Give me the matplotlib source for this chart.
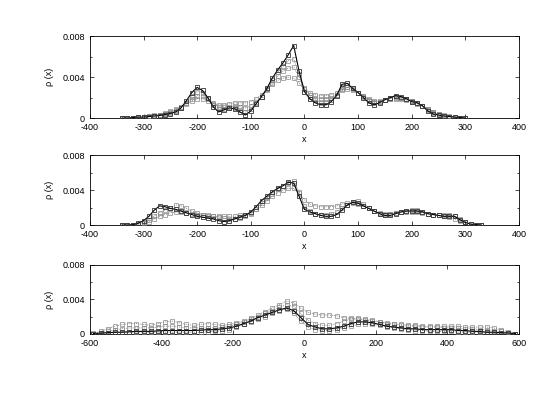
import matplotlib
matplotlib.use("Agg")
import matplotlib.pyplot as plt
from matplotlib.ticker import MultipleLocator

plt.rcParams['font.family'] = ['Liberation Sans', 'DejaVu Sans']

# ---------------- Panel 1 ----------------
x1 = [-340, -330, -320, -310, -300, -290, -280, -270, -260, -250, -240, -230, -220, -210, -200,
      -190, -180, -170, -160, -150, -140, -130, -120, -110, -100, -90, -80, -70, -60, -50, -40,
      -30, -20, -10, 0, 10, 20, 30, 40, 50, 60, 70, 80, 90, 100, 110, 120, 130, 140, 150, 160,
      170, 180, 190, 200, 210, 220, 230, 240, 250, 260, 270, 280, 290, 300]
p1_a = [0.0, 0.0, 0.05, 0.1, 0.1, 0.15, 0.2, 0.25, 0.35, 0.45, 0.6, 1.0, 1.7, 2.5, 3.0,
        2.7, 2.0, 1.1, 0.6, 0.8, 1.0, 0.9, 0.6, 0.3, 0.7, 1.4, 2.1, 2.9, 3.9, 4.7, 5.4,
        6.2, 7.1, 4.6, 2.6, 1.9, 1.5, 1.3, 1.3, 1.6, 2.2, 3.3, 3.4, 2.9, 2.5, 2.0, 1.5, 1.3, 1.5, 1.8, 2.0,
        2.2, 2.1, 1.9, 1.6, 1.5, 1.2, 0.7, 0.4, 0.3, 0.2, 0.15, 0.1, 0.05, 0.0]
p1_b = [0.0, 0.0, 0.05, 0.1, 0.1, 0.15, 0.2, 0.3, 0.4, 0.5, 0.7, 1.0, 1.5, 2.2, 2.6,
        2.5, 2.0, 1.3, 0.9, 0.9, 1.0, 1.0, 0.8, 0.6, 0.9, 1.5, 2.1, 2.8, 3.7, 4.5, 5.1,
        5.6, 5.8, 4.3, 2.8, 2.1, 1.8, 1.6, 1.6, 1.8, 2.3, 3.0, 3.2, 2.9, 2.5, 2.1, 1.7, 1.5, 1.6, 1.8, 2.0,
        2.1, 2.0, 1.9, 1.7, 1.5, 1.2, 0.8, 0.5, 0.3, 0.2, 0.15, 0.1, 0.05, 0.0]
p1_c = [0.0, 0.0, 0.05, 0.1, 0.15, 0.2, 0.25, 0.3, 0.45, 0.6, 0.8, 1.1, 1.5, 1.9, 2.2,
        2.2, 1.9, 1.5, 1.1, 1.1, 1.1, 1.2, 1.1, 1.0, 1.2, 1.6, 2.1, 2.7, 3.4, 4.1, 4.6,
        4.9, 5.0, 4.0, 2.9, 2.3, 2.0, 1.9, 1.9, 2.0, 2.3, 2.8, 3.0, 2.8, 2.5, 2.2, 1.8, 1.6, 1.6, 1.8, 1.9,
        2.0, 2.0, 1.9, 1.7, 1.5, 1.2, 0.9, 0.6, 0.4, 0.25, 0.15, 0.1, 0.05, 0.0]
p1_d = [0.0, 0.0, 0.05, 0.1, 0.15, 0.2, 0.3, 0.35, 0.5, 0.65, 0.85, 1.1, 1.4, 1.7, 1.9,
        1.9, 1.7, 1.4, 1.3, 1.3, 1.4, 1.5, 1.5, 1.5, 1.6, 1.9, 2.3, 2.8, 3.3, 3.7, 3.9,
        4.0, 3.9, 3.4, 2.8, 2.5, 2.3, 2.2, 2.2, 2.3, 2.5, 2.7, 2.8, 2.7, 2.5, 2.2, 1.9, 1.7, 1.7, 1.8, 1.9,
        1.9, 1.9, 1.8, 1.6, 1.4, 1.2, 0.9, 0.6, 0.4, 0.3, 0.2, 0.1, 0.05, 0.0]

# ---------------- Panel 2 ----------------
x2 = [-340, -330, -320, -310, -300, -290, -280, -270, -260, -250, -240, -230, -220, -210, -200,
      -190, -180, -170, -160, -150, -140, -130, -120, -110, -100, -90, -80, -70, -60, -50, -40,
      -30, -20, -10, 0, 10, 20, 30, 40, 50, 60, 70, 80, 90, 100, 110, 120, 130, 140, 150, 160,
      170, 180, 190, 200, 210, 220, 230, 240, 250, 260, 270, 280, 290, 300, 310, 320, 330]
p2_a = [0.0, 0.0, 0.05, 0.2, 0.5, 1.0, 1.7, 2.2, 2.1, 1.9, 1.8, 1.6, 1.4, 1.2, 1.0,
        0.9, 0.8, 0.7, 0.5, 0.4, 0.5, 0.7, 0.9, 1.1, 1.5, 2.1, 2.8, 3.3, 3.8, 4.2, 4.5,
        4.9, 4.8, 3.3, 1.8, 1.5, 1.3, 1.1, 1.0, 1.0, 1.2, 1.7, 2.3, 2.6, 2.5, 2.2, 1.9, 1.6, 1.3, 1.1, 1.1,
        1.3, 1.5, 1.6, 1.6, 1.6, 1.5, 1.3, 1.2, 1.1, 1.0, 1.0, 1.0, 0.6, 0.3, 0.1, 0.05, 0.0]
p2_b = [0.0, 0.0, 0.05, 0.1, 0.3, 0.6, 1.0, 1.4, 1.7, 2.0, 2.3, 2.2, 1.9, 1.6, 1.4,
        1.2, 1.1, 1.0, 0.9, 0.8, 0.7, 0.7, 0.8, 1.0, 1.3, 1.8, 2.5, 3.1, 3.6, 4.1, 4.5,
        4.8, 5.0, 3.8, 2.2, 1.6, 1.3, 1.2, 1.2, 1.3, 1.5, 1.9, 2.3, 2.6, 2.7, 2.4, 2.0, 1.6, 1.3, 1.2, 1.3,
        1.4, 1.5, 1.6, 1.7, 1.7, 1.5, 1.3, 1.2, 1.1, 1.1, 1.1, 1.0, 0.7, 0.4, 0.15, 0.05, 0.0]
p2_c = [0.0, 0.0, 0.05, 0.1, 0.2, 0.4, 0.7, 1.0, 1.2, 1.4, 1.5, 1.5, 1.4, 1.3, 1.2,
        1.1, 1.0, 1.0, 1.0, 1.0, 1.0, 1.0, 1.1, 1.2, 1.4, 1.8, 2.3, 2.8, 3.3, 3.7, 4.0,
        4.2, 4.2, 3.7, 2.9, 2.4, 2.2, 2.1, 2.1, 2.1, 2.2, 2.4, 2.5, 2.5, 2.4, 2.2, 1.9, 1.6, 1.4, 1.3, 1.3,
        1.4, 1.5, 1.5, 1.5, 1.5, 1.4, 1.3, 1.2, 1.1, 1.0, 0.9, 0.7, 0.5, 0.3, 0.1, 0.05, 0.0]

# ---------------- Panel 3 ----------------
x3 = [-590, -570, -550, -530, -510, -490, -470, -450, -430, -410,
      -390, -370, -350, -330, -310, -290, -270, -250, -230, -210,
      -190, -170, -150, -130, -110, -90, -70, -50, -30, -10,
      10, 30, 50, 70, 90, 110, 130, 150, 170, 190,
      210, 230, 250, 270, 290, 310, 330, 350, 370, 390,
      410, 430, 450, 470, 490, 510, 530, 550, 570, 590]
p3_a = [0.05, 0.1, 0.15, 0.2, 0.2, 0.25, 0.3, 0.3, 0.3, 0.35,
        0.4, 0.4, 0.4, 0.4, 0.4, 0.45, 0.5, 0.5, 0.6, 0.7,
        0.9, 1.2, 1.5, 1.9, 2.2, 2.5, 2.8, 3.0, 2.7, 1.9,
        1.1, 0.8, 0.6, 0.6, 0.7, 0.9, 1.2, 1.4, 1.4, 1.3,
        1.1, 0.9, 0.8, 0.7, 0.6, 0.6, 0.5, 0.5, 0.5, 0.5,
        0.5, 0.4, 0.4, 0.3, 0.3, 0.2, 0.2, 0.15, 0.1, 0.05]
p3_b = [0.1, 0.3, 0.6, 0.9, 1.1, 1.2, 1.2, 1.1, 1.0, 1.2,
        1.4, 1.5, 1.3, 1.1, 1.0, 1.1, 1.2, 1.1, 1.0, 1.1,
        1.3, 1.5, 1.8, 2.2, 2.6, 3.0, 3.4, 3.8, 3.6, 3.0,
        2.5, 2.3, 2.2, 2.2, 2.1, 1.9, 1.8, 1.7, 1.6, 1.5,
        1.4, 1.3, 1.2, 1.1, 1.0, 1.0, 0.9, 0.9, 0.9, 0.9,
        0.9, 0.9, 0.8, 0.8, 0.8, 0.8, 0.7, 0.5, 0.2, 0.05]
p3_c = [0.05, 0.15, 0.3, 0.5, 0.6, 0.7, 0.7, 0.7, 0.7, 0.8,
        0.9, 0.9, 0.8, 0.7, 0.7, 0.7, 0.7, 0.7, 0.8, 0.9,
        1.1, 1.4, 1.7, 2.0, 2.4, 2.7, 3.1, 3.4, 3.2, 2.4,
        1.6, 1.2, 1.0, 1.0, 1.2, 1.5, 1.7, 1.8, 1.7, 1.6,
        1.4, 1.2, 1.1, 1.0, 0.9, 0.9, 0.8, 0.8, 0.8, 0.7,
        0.7, 0.7, 0.6, 0.6, 0.5, 0.5, 0.4, 0.3, 0.15, 0.05]
p3_d = [0.0, 0.05, 0.1, 0.15, 0.2, 0.2, 0.2, 0.2, 0.2, 0.2,
        0.2, 0.2, 0.2, 0.2, 0.2, 0.2, 0.25, 0.3, 0.4, 0.5,
        0.8, 1.1, 1.4, 1.7, 2.0, 2.4, 2.7, 2.9, 2.4, 1.5,
        0.8, 0.5, 0.4, 0.4, 0.5, 0.7, 0.9, 1.1, 1.2, 1.1,
        1.0, 0.8, 0.7, 0.6, 0.5, 0.4, 0.4, 0.3, 0.3, 0.3,
        0.3, 0.2, 0.2, 0.2, 0.2, 0.1, 0.1, 0.05, 0.0, 0.0]

SCALE = 1e-3  # values above are in units of 1e-3

panels = [
    (x1, [p1_a, p1_b, p1_c, p1_d], (-400, 400), 100),
    (x2, [p2_a, p2_b, p2_c], (-400, 400), 100),
    (x3, [p3_a, p3_b, p3_c, p3_d], (-600, 600), 200),
]
rects = [
    [0.164, 0.704, 0.783, 0.205],
    [0.164, 0.436, 0.783, 0.175],
    [0.164, 0.163, 0.783, 0.173],
]

fig = plt.figure(figsize=(5.48, 3.99), dpi=100)
fig.patch.set_facecolor('white')

fs = 6.5
for (xs, series, xlim, xstep), rect in zip(panels, rects):
    ax = fig.add_axes(rect)
    for i, ys in enumerate(series):
        yv = [v * SCALE for v in ys]
        if i == 0:
            ax.plot(xs, yv, color='black', lw=0.8, ls='-', marker='s', ms=3.2,
                    mfc='none', mec='#333333', mew=0.6, zorder=4)
        else:
            ax.plot(xs, yv, color='#777777', lw=0.6, ls=(0, (1, 1.2)), marker='s', ms=3.0,
                    mfc='none', mec='#888888', mew=0.5, zorder=3)
    ax.set_xlim(*xlim)
    ax.set_ylim(0, 0.008)
    ax.xaxis.set_major_locator(MultipleLocator(xstep))
    ax.yaxis.set_minor_locator(MultipleLocator(0.002))
    ax.set_yticks([0, 0.004, 0.008])
    ax.set_yticklabels(['0', '0.004', '0.008'])
    ax.set_xticklabels([str(int(v)) for v in ax.get_xticks()])
    ax.tick_params(which='both', direction='in', top=True, right=True,
                   labelsize=fs, width=0.5)
    ax.tick_params(axis='x', pad=3.5)
    ax.tick_params(axis='y', pad=3.5)
    ax.tick_params(which='major', length=3)
    ax.tick_params(which='minor', length=1.5)
    for s in ax.spines.values():
        s.set_linewidth(0.6)
    ax.set_xlabel('x', fontsize=fs, labelpad=2)
    ax.set_ylabel('ρ (x)', fontsize=fs, labelpad=6)

fig.savefig('out.png', dpi=100, facecolor='white')
